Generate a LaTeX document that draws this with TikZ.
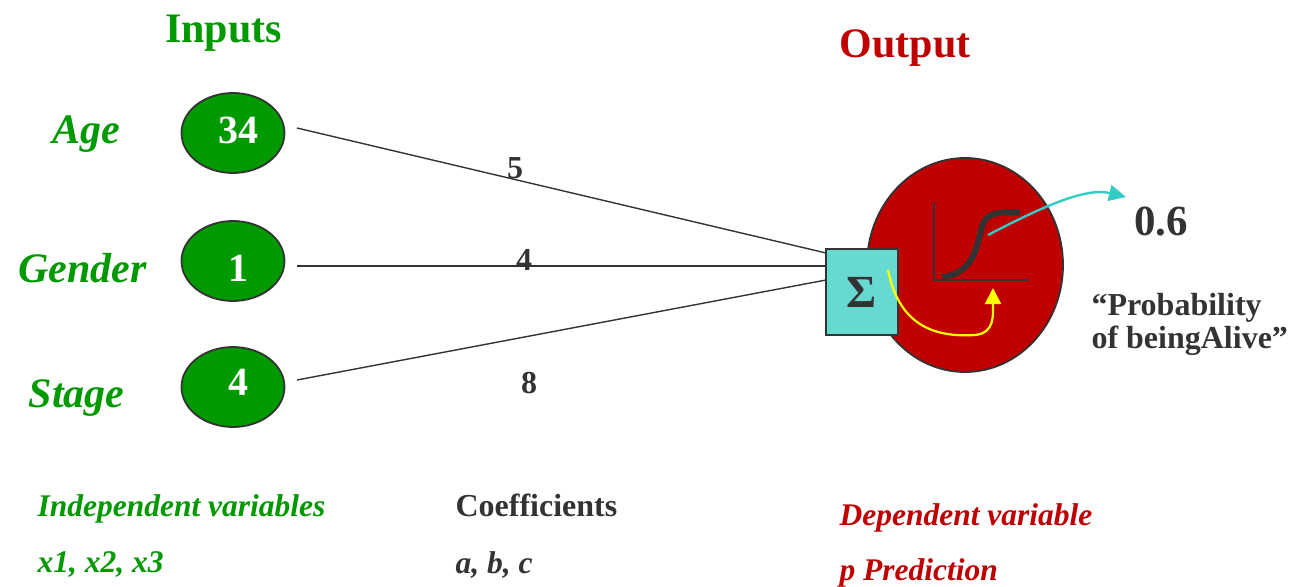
\documentclass[tikz,border=0pt]{standalone}
\usepackage{fontspec}
\setmainfont{Liberation Serif}
\usetikzlibrary{arrows.meta,shapes.geometric}
\definecolor{leafgreen}{HTML}{009900}
\definecolor{deepred}{HTML}{C00000}
\definecolor{inkgray}{HTML}{333333}
\definecolor{sumcyan}{HTML}{66D9D0}
\definecolor{arrowcyan}{HTML}{33CCC4}
\definecolor{sunyellow}{HTML}{FFFF00}
\begin{document}
\begin{tikzpicture}[x=1pt,y=-1pt,
  inputnode/.style={ellipse,draw=inkgray,line width=1.8pt,fill=leafgreen,
    minimum width=103pt,minimum height=80pt,inner sep=0pt},
  inputvalue/.style={anchor=base,text=white,font=\bfseries\fontsize{40}{40}\selectfont},
  varlabel/.style={anchor=base,text=leafgreen,font=\bfseries\itshape\fontsize{42}{42}\selectfont},
  weight/.style={anchor=base,text=inkgray,font=\bfseries\fontsize{32}{32}\selectfont},
  heading/.style={anchor=base,font=\bfseries\fontsize{42}{42}\selectfont},
  legend/.style={anchor=base west,font=\bfseries\itshape\fontsize{31.5}{31.5}\selectfont},
  wire/.style={draw=inkgray,line width=1.4pt}]
\useasboundingbox (0,0) rectangle (1289,586);

% headings
\node[heading,text=leafgreen] (inputs) at (223.5,43) {Inputs};
\node[heading,text=deepred] (output) at (905,58) {Output};

% input variables
\node[varlabel] (agelbl) at (86,143) {Age};
\node[varlabel] (genderlbl) at (82.5,282) {Gender};
\node[varlabel] (stagelbl) at (76.5,407) {Stage};

\node[inputnode] (age) at (233,133) {};
\node[inputnode] (gender) at (233,261) {};
\node[inputnode] (stage) at (233,387) {};
\node[inputvalue] (agev) at (238,143) {34};
\node[inputvalue] (genderv) at (238,281) {1};
\node[inputvalue] (stagev) at (238,395) {4};

% output unit
\node[ellipse,draw=inkgray,line width=1.8pt,fill=deepred,minimum width=196pt,
  minimum height=214pt,inner sep=0pt] (unit) at (965,265) {};
\draw[line width=2pt,draw=inkgray] (934,202) -- (934,280) -- (1029,280);
\draw[line width=6pt,draw=inkgray] (942,277) .. controls (985,272) and (975,225) .. (988,217)
  .. controls (995,212) and (1005,212) .. (1020,212);

\node[rectangle,draw=inkgray,line width=1.8pt,fill=sumcyan,minimum width=72pt,
  minimum height=86pt,inner sep=0pt,text=inkgray,
  font=\bfseries\fontsize{46}{46}\selectfont] (sum) at (862,292) {Σ};

% weighted connections
\coordinate (sumA) at (826,253);
\coordinate (sumB) at (826,266);
\coordinate (sumC) at (826,280);
\draw[wire] (297,128) -- (sumA);
\draw[wire] (297,266) -- (sumB);
\draw[wire] (297,380) -- (sumC);
\node[weight] (w1) at (515,178) {5};
\node[weight] (w2) at (524,270) {4};
\node[weight] (w3) at (529,393) {8};

% activation flow
\coordinate (sumout) at (888,270);
\coordinate (sigin) at (993,288);
\draw[draw=sunyellow,line width=2.2pt,-{Triangle[length=16pt,width=16pt]}]
  (sumout) .. controls (900,330) and (940,337) .. (975,335)
  .. controls (995,333) and (993,315) .. (sigin);
\coordinate (sigout) at (988,235);
\node[anchor=base,text=inkgray,font=\bfseries\fontsize{43}{43}\selectfont] (prob) at (1161,235) {0.6};
\draw[draw=arrowcyan,line width=2.4pt,-{Triangle[length=17pt,width=16pt]}]
  (sigout) .. controls (1040,208) and (1085,187) .. (1126,197);

\node[anchor=base west,align=left,text=inkgray,
  font=\bfseries\fontsize{32}{33}\selectfont] (meaning) at (1088,348)
  {“Probability\\of beingAlive”};

% legend
\node[legend,text=leafgreen] (indep) at (34,516) {Independent variables};
\node[legend,text=leafgreen] (xs) at (34,572) {x1, x2, x3};
\node[legend,text=inkgray,font=\bfseries\fontsize{32}{32}\selectfont] (coef) at (452,516) {Coefficients};
\node[legend,text=inkgray] (abc) at (452,573) {a, b, c};
\node[legend,text=deepred] (dep) at (836,525) {Dependent variable};
\node[legend,text=deepred] (pred) at (836,580) {p Prediction};
\end{tikzpicture}
\end{document}
